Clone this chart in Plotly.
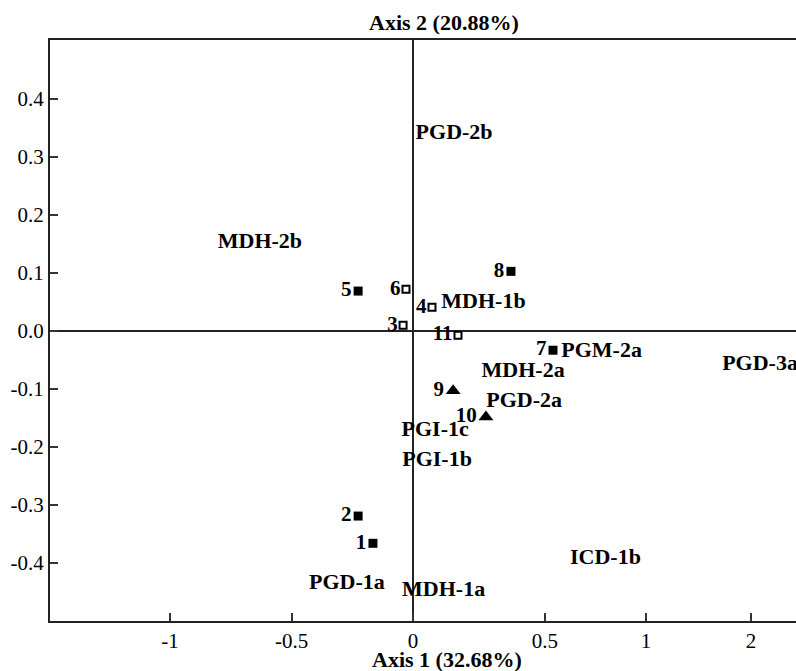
import plotly.graph_objects as go

# Sample (OTU) scores
sample_labels = ["1", "2", "3", "4", "5", "6", "7", "8", "9", "10", "11"]
sample_x = [-0.165, -0.226, -0.041, 0.078, -0.226, -0.029, 0.576, 0.403, 0.165, 0.300, 0.185]
sample_y = [-0.366, -0.319, 0.010, 0.041, 0.069, 0.072, -0.033, 0.103, -0.103, -0.148, -0.007]
sample_group = ["filled", "filled", "open", "open", "filled", "open", "filled", "filled", "tri", "tri", "open"]

# Variable (allele) positions
var_labels = ["PGD-2b", "MDH-2b", "MDH-1b", "PGM-2a", "PGD-3a", "MDH-2a", "PGD-2a",
              "PGI-1c", "PGI-1b", "ICD-1b", "MDH-1a", "PGD-1a"]
var_x = [0.169, -0.630, 0.290, 0.776, 1.428, 0.453, 0.457, 0.091, 0.099, 0.792, 0.126, -0.272]
var_y = [0.341, 0.152, 0.050, -0.036, -0.057, -0.069, -0.122, -0.172, -0.224, -0.393, -0.447, -0.436]

# Axis ticks
x_tickvals = [-1, -0.5, 0, 0.543, 0.959, 1.391]
x_ticktext = ["-1", "-0.5", "0", "0.5", "1", "2"]
y_tickvals = [0.4, 0.3, 0.2, 0.1, 0.0, -0.1, -0.2, -0.3, -0.4]
y_ticktext = ["0.4", "0.3", "0.2", "0.1", "0.0", "-0.1", "-0.2", "-0.3", "-0.4"]

x_title = "Axis 1 (32.68%)"
y_title = "Axis 2 (20.88%)"

FONT = "Liberation Serif"

styles = {
    "filled": dict(symbol="square", size=9, color="black", line=dict(color="black", width=0)),
    "open": dict(symbol="square-open", size=7, color="black", line=dict(color="black", width=2)),
    "tri": dict(symbol="triangle-up", size=13, color="black", line=dict(color="black", width=0)),
}

fig = go.Figure()

for g in ["filled", "open", "tri"]:
    idx = [i for i, s in enumerate(sample_group) if s == g]
    fig.add_trace(go.Scatter(
        x=[sample_x[i] for i in idx],
        y=[sample_y[i] for i in idx],
        text=["<b>%s</b>" % sample_labels[i] for i in idx],
        mode="markers+text",
        textposition="middle left",
        marker=styles[g],
        textfont=dict(family=FONT, size=21, color="black"),
        showlegend=False,
        cliponaxis=False,
    ))

fig.add_trace(go.Scatter(
    x=var_x, y=var_y,
    text=["<b>%s</b>" % t for t in var_labels],
    mode="text",
    textposition="middle center",
    textfont=dict(family=FONT, size=22, color="black"),
    showlegend=False,
    cliponaxis=False,
))

fig.update_layout(
    width=796, height=671,
    margin=dict(l=50, r=0, t=40, b=50),
    plot_bgcolor="white", paper_bgcolor="white",
    font=dict(family=FONT, size=21, color="black"),
    xaxis=dict(
        range=[-1.494, 1.576],
        tickvals=x_tickvals, ticktext=x_ticktext,
        ticks="inside", ticklen=8, tickwidth=2, tickcolor="#333",
        showline=True, linecolor="#222", linewidth=2, mirror=True,
        showgrid=False,
        zeroline=True, zerolinecolor="#222", zerolinewidth=2,
        tickfont=dict(family=FONT, size=21, color="black"),
    ),
    yaxis=dict(
        range=[-0.5, 0.502],
        tickvals=y_tickvals, ticktext=y_ticktext,
        ticks="inside", ticklen=8, tickwidth=2, tickcolor="#333",
        showline=True, linecolor="#222", linewidth=2, mirror=False,
        showgrid=False,
        zeroline=True, zerolinecolor="#222", zerolinewidth=2,
        tickfont=dict(family=FONT, size=21, color="black"),
    ),
    annotations=[
        dict(text="<b>%s</b>" % y_title, xref="paper", yref="paper", x=0.528, y=1,
             yanchor="middle", yshift=18, showarrow=False,
             font=dict(family=FONT, size=22, color="black")),
        dict(text="<b>%s</b>" % x_title, xref="paper", yref="paper", x=0.532, y=0,
             yanchor="middle", yshift=-38, showarrow=False,
             font=dict(family=FONT, size=22, color="black")),
    ],
)

fig.write_html("out.html")
